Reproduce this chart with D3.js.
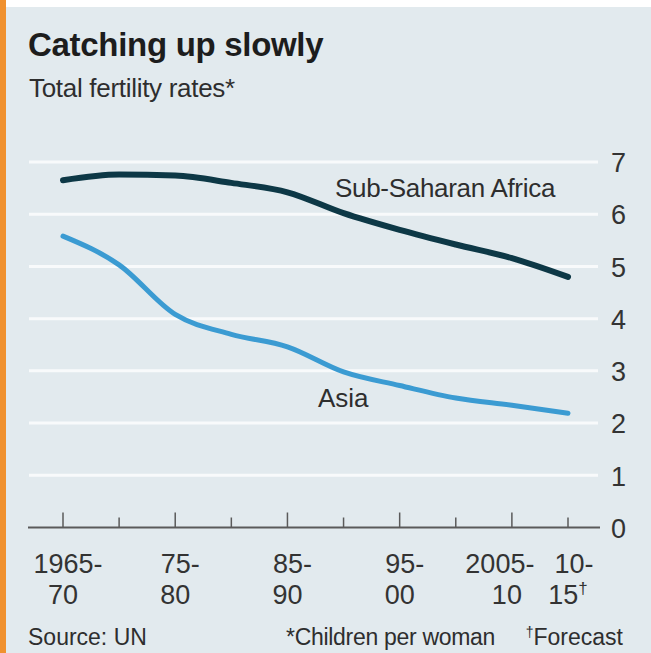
<!DOCTYPE html>
<html>
<head>
<meta charset="utf-8">
<script src="https://cdn.jsdelivr.net/npm/d3@7/dist/d3.min.js"></script>
<style>
  html, body { margin: 0; padding: 0; background: #ffffff; }
  svg { display: block; }
  text { font-family: "Liberation Sans", Arial, sans-serif; }
</style>
</head>
<body>
<svg id="chart" width="651" height="653"></svg>
<script>
// Total fertility rates, children per woman, UN five-year periods
const periods = ["1965-70", "1970-75", "1975-80", "1980-85", "1985-90",
                 "1990-95", "1995-00", "2000-05", "2005-10", "2010-15"];
const africa = [6.65, 6.76, 6.74, 6.60, 6.42, 6.02, 5.70, 5.42, 5.16, 4.80];
const asia   = [5.58, 5.03, 4.08, 3.70, 3.46, 2.98, 2.72, 2.48, 2.34, 2.19];

// Axis labels (two lines each) for the labelled periods
const tickTop    = ["1965-", "75-", "85-", "95-", "2005-", "10-"];
const tickBottom = ["70", "80", "90", "00", "10", "15"];
const labelled   = ["1965-70", "1975-80", "1985-90", "1995-00", "2005-10", "2010-15"];
const yTicks = [0, 1, 2, 3, 4, 5, 6, 7];

const svg = d3.select("#chart");
const W = 651, H = 653;

// Frame: page background, orange side bar
svg.append("rect").attr("x", 0).attr("y", 0).attr("width", W).attr("height", H).attr("fill", "#ffffff");
svg.append("rect").attr("x", 6).attr("y", 7).attr("width", W - 6).attr("height", H - 7).attr("fill", "#e2eaee");
svg.append("rect").attr("x", 0).attr("y", 0).attr("width", 6).attr("height", H).attr("fill", "#f0912f");

// Titles
svg.append("text").attr("x", 28).attr("y", 56)
  .attr("font-size", 33).attr("font-weight", "bold").attr("fill", "#1d1d1d")
  .attr("letter-spacing", "-0.3")
  .text("Catching up slowly");
svg.append("text").attr("x", 29).attr("y", 97)
  .attr("font-size", 26).attr("fill", "#2e2e2e")
  .attr("letter-spacing", "-0.3")
  .text("Total fertility rates*");

// Scales
const x = d3.scalePoint().domain(periods).range([63, 568]);
const y = d3.scaleLinear().domain([0, 7]).range([527.5, 162]);

// Horizontal gridlines
svg.append("g").selectAll("line").data(yTicks.filter(d => d > 0)).join("line")
  .attr("x1", 29).attr("x2", 598)
  .attr("y1", d => y(d)).attr("y2", d => y(d))
  .attr("stroke", "#f8fafb").attr("stroke-width", 3);

// Right-hand value axis (labels only)
const yAxis = d3.axisRight(y).tickValues(yTicks).tickSize(0).tickPadding(0).tickFormat(d3.format("d"));
const gy = svg.append("g").attr("transform", "translate(611,0)").call(yAxis);
gy.select(".domain").remove();
gy.selectAll("text")
  .attr("font-size", 27).attr("fill", "#333")
  .attr("font-family", "Liberation Sans, Arial, sans-serif")
  .attr("x", 0).attr("dy", "0.36em");

// Baseline with period ticks
svg.append("line").attr("x1", 28).attr("x2", 600)
  .attr("y1", y(0)).attr("y2", y(0))
  .attr("stroke", "#5a5a5a").attr("stroke-width", 2);
const major = new Set(labelled.slice(0, 5));
svg.append("g").selectAll("line").data(periods).join("line")
  .attr("x1", d => x(d)).attr("x2", d => x(d))
  .attr("y1", y(0)).attr("y2", d => y(0) - (major.has(d) ? 15 : 10))
  .attr("stroke", "#5a5a5a").attr("stroke-width", 1.5);

// Period labels
const gx = svg.append("g").attr("font-size", 27).attr("fill", "#333");
labelled.forEach((p, i) => {
  const cx = x(p);
  const shift = i === 4 ? -12 : (i === 5 ? 6 : 5);
  gx.append("text").attr("x", cx + shift).attr("y", 573)
    .attr("text-anchor", "middle").attr("fill", "#333").text(tickTop[i]);
  const t = gx.append("text").attr("x", cx + (i === 4 ? -5 : 0)).attr("y", 604)
    .attr("text-anchor", "middle").attr("fill", "#333").text(tickBottom[i]);
  if (i === 5) {
    t.append("tspan").attr("font-size", 17).attr("dy", -10).text("\u2020");
  }
});

// Lines
const line = d3.line().x((d, i) => x(periods[i])).y(d => y(d)).curve(d3.curveMonotoneX);
svg.append("path").datum(asia).attr("d", line)
  .attr("fill", "none").attr("stroke", "#3b9bd2").attr("stroke-width", 5)
  .attr("stroke-linecap", "round").attr("stroke-linejoin", "round");
svg.append("path").datum(africa).attr("d", line)
  .attr("fill", "none").attr("stroke", "#0d3846").attr("stroke-width", 6)
  .attr("stroke-linecap", "round").attr("stroke-linejoin", "round");

// Series labels
svg.append("text").attr("x", 335).attr("y", 197)
  .attr("font-size", 26).attr("fill", "#2e2e2e").attr("letter-spacing", "-0.3")
  .text("Sub-Saharan Africa");
svg.append("text").attr("x", 318).attr("y", 407)
  .attr("font-size", 26).attr("fill", "#2e2e2e")
  .text("Asia");

// Footer
const foot = svg.append("g").attr("font-size", 23).attr("fill", "#2e2e2e");
foot.append("text").attr("x", 28).attr("y", 645).text("Source: UN");
foot.append("text").attr("x", 286).attr("y", 645).attr("letter-spacing", "-0.3").text("*Children per woman");
const fc = foot.append("text").attr("x", 623).attr("y", 645).attr("text-anchor", "end");
fc.append("tspan").attr("font-size", 14).attr("dy", -8).text("\u2020");
fc.append("tspan").attr("dy", 8).text("Forecast");
</script>
</body>
</html>
